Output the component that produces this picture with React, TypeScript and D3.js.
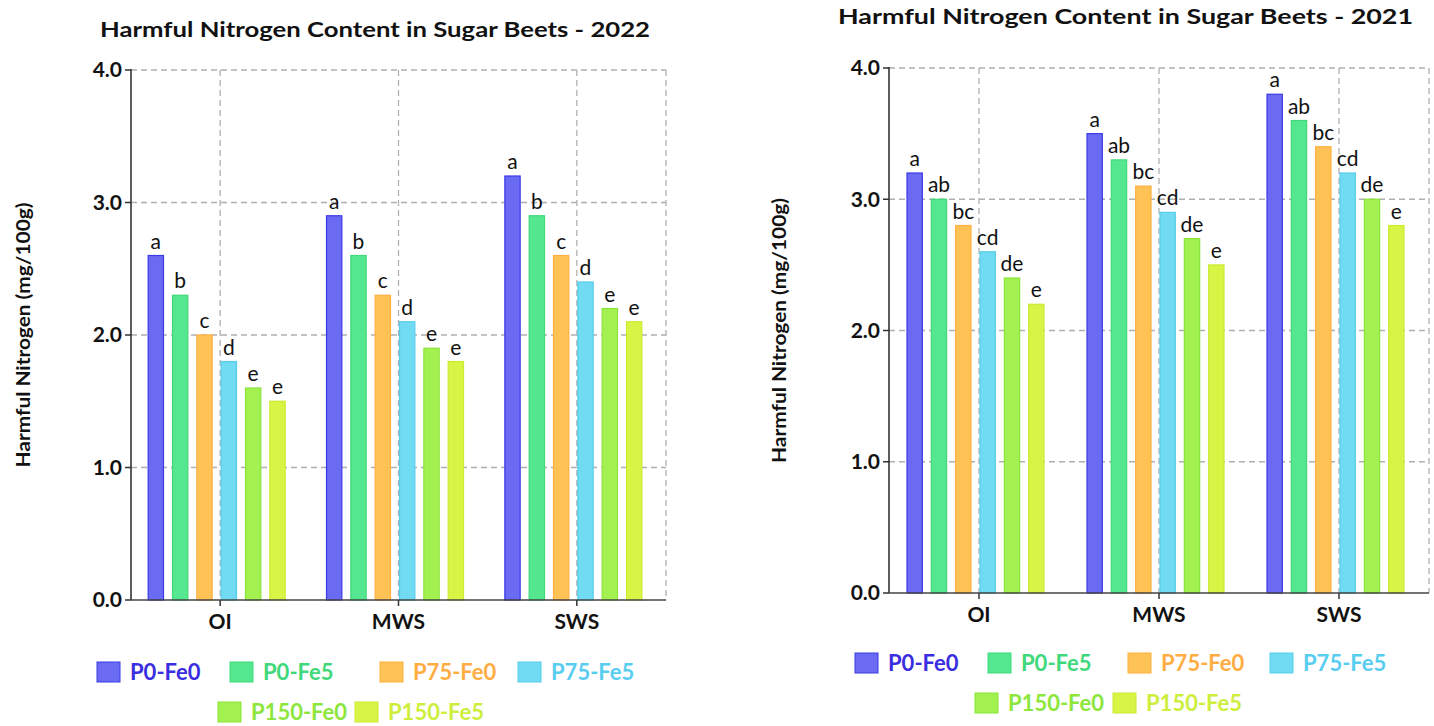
import React from "react";
import * as d3 from "d3";

const categories = ["OI", "MWS", "SWS"];
const series = ["P0-Fe0", "P0-Fe5", "P75-Fe0", "P75-Fe5", "P150-Fe0", "P150-Fe5"];
const fillColors = ["#6a6af2", "#55e78f", "#ffc255", "#70dbf2", "#a2f150", "#d8f546"];
const strokeColors = ["#3b3be6", "#3fd97a", "#ffb040", "#56cdea", "#8ae53a", "#c8ec30"];
const textColors = ["#3a2ee0", "#3fd87a", "#ffad42", "#58cdf0", "#8de63c", "#cdee3c"];

// 2022 values, rows = categories, cols = series
const values2022 = [
    [2.6, 2.3, 2.0, 1.8, 1.6, 1.5],
    [2.9, 2.6, 2.3, 2.1, 1.9, 1.8],
    [3.2, 2.9, 2.6, 2.4, 2.2, 2.1],
];
const letters2022 = [
    ["a", "b", "c", "d", "e", "e"],
    ["a", "b", "c", "d", "e", "e"],
    ["a", "b", "c", "d", "e", "e"],
];

// 2021 values
const values2021 = [
    [3.2, 3.0, 2.8, 2.6, 2.4, 2.2],
    [3.5, 3.3, 3.1, 2.9, 2.7, 2.5],
    [3.8, 3.6, 3.4, 3.2, 3.0, 2.8],
];
const letters2021 = [
    ["a", "ab", "bc", "cd", "de", "e"],
    ["a", "ab", "bc", "cd", "de", "e"],
    ["a", "ab", "bc", "cd", "de", "e"],
];

const yTicks = [0, 1, 2, 3, 4];
const FONT = "Lato, 'Open Sans', sans-serif";

type ChartProps = {
    title: string;
    titleX: number;
    titleY: number;
    titleW: number;
    left: number;
    right: number;
    top: number;
    bottom: number;
    yLabelX: number;
    values: number[][];
    letters: string[][];
    legendRows: { x: number; y: number; idx: number[]; gaps: number[] }[];
};

function Chart(p: ChartProps) {
    const x = d3.scaleBand().domain(categories).range([p.left, p.right]).padding(0);
    const inner = d3.scaleBand().domain(series).range([-72, 65]).paddingInner(0.37).paddingOuter(0);
    const y = d3.scaleLinear().domain([0, 4]).range([p.bottom, p.top]);
    const midY = (p.top + p.bottom) / 2;

    return (
        <g fontFamily={FONT}>
            {/* title */}
            <text x={p.titleX} y={p.titleY} fontSize={21} fontWeight="bold" fill="#111"
                textLength={p.titleW} lengthAdjust="spacingAndGlyphs">{p.title}</text>

            {/* grid */}
            {yTicks.filter(t => t > 0).map(t => (
                <line key={"h" + t} x1={p.left} x2={p.right} y1={y(t)} y2={y(t)}
                    stroke="#b0b0b0" strokeWidth={1.3} strokeDasharray="6,4" />
            ))}
            {categories.map(c => (
                <line key={"v" + c} x1={x(c)! + x.bandwidth() / 2} x2={x(c)! + x.bandwidth() / 2}
                    y1={p.top} y2={p.bottom} stroke="#b0b0b0" strokeWidth={1.3} strokeDasharray="6,4" />
            ))}
            <line x1={p.right} x2={p.right} y1={p.top} y2={p.bottom}
                stroke="#b0b0b0" strokeWidth={1.3} strokeDasharray="6,4" />

            {/* bars */}
            {categories.map((c, ci) => series.map((s, si) => {
                const v = p.values[ci][si];
                const bx = x(c)! + x.bandwidth() / 2 + inner(s)!;
                return (
                    <g key={c + s}>
                        <rect x={bx} y={y(v)} width={inner.bandwidth()} height={y(0) - y(v)}
                            fill={fillColors[si]} stroke={strokeColors[si]} strokeWidth={1.2} />
                        <text x={bx + inner.bandwidth() / 2} y={y(v) - 7} textAnchor="middle"
                            fontSize={21} fill="#111">{p.letters[ci][si]}</text>
                    </g>
                );
            }))}

            {/* axes */}
            <line x1={p.left} x2={p.left} y1={p.top - 1} y2={p.bottom} stroke="#333" strokeWidth={1.6} />
            <line x1={p.left} x2={p.right} y1={p.bottom} y2={p.bottom} stroke="#444" strokeWidth={1.6} />
            {yTicks.map(t => (
                <g key={"yt" + t}>
                    <line x1={p.left - 6} x2={p.left} y1={y(t)} y2={y(t)} stroke="#333" strokeWidth={1.5} />
                    <text x={p.left - 9} y={y(t)} dy="0.35em" textAnchor="end" fontSize={21}
                        fontWeight="bold" fill="#111">{t.toFixed(1)}</text>
                </g>
            ))}
            {categories.map(c => (
                <g key={"xt" + c}>
                    <line x1={x(c)! + x.bandwidth() / 2} x2={x(c)! + x.bandwidth() / 2}
                        y1={p.bottom} y2={p.bottom + 6} stroke="#333" strokeWidth={1.5} />
                    <text x={x(c)! + x.bandwidth() / 2} y={p.bottom + 29} textAnchor="middle"
                        fontSize={21} fontWeight="bold" fill="#111">{c}</text>
                </g>
            ))}

            {/* y label */}
            <text transform={`translate(${p.yLabelX}, ${midY}) rotate(-90)`} textAnchor="middle"
                fontSize={19} fontWeight="bold" fill="#111" textLength={265}
                lengthAdjust="spacingAndGlyphs">Harmful Nitrogen (mg/100g)</text>

            {/* legend */}
            {p.legendRows.map((row, ri) => {
                let cx = row.x;
                return row.idx.map((si, k) => {
                    const gx = cx;
                    cx += row.gaps[k];
                    return (
                        <g key={"lg" + ri + si} transform={`translate(${gx}, ${row.y})`}>
                            <rect x={0} y={-10} width={23} height={20} fill={fillColors[si]}
                                stroke={strokeColors[si]} strokeWidth={1} />
                            <text x={33} y={0} dy="0.36em" fontSize={22} fontWeight="bold"
                                fill={textColors[si]}>{series[si]}</text>
                        </g>
                    );
                });
            })}
        </g>
    );
}

export default function App() {
    return (
        <svg width={1434} height={726} style={{ position: "absolute", left: 0, top: 0, background: "#fff" }}>
            <rect width={1434} height={726} fill="#fff" />
            <Chart title="Harmful Nitrogen Content in Sugar Beets - 2022" titleX={100} titleY={37} titleW={550}
                left={131} right={666} top={70} bottom={600} yLabelX={30}
                values={values2022} letters={letters2022}
                legendRows={[
                    { x: 97, y: 672, idx: [0, 1, 2, 3], gaps: [133, 150, 138, 0] },
                    { x: 218, y: 712, idx: [4, 5], gaps: [137, 0] },
                ]} />
            <Chart title="Harmful Nitrogen Content in Sugar Beets - 2021" titleX={838} titleY={24} titleW={575}
                left={889} right={1429} top={68} bottom={593} yLabelX={786}
                values={values2021} letters={letters2021}
                legendRows={[
                    { x: 855, y: 663, idx: [0, 1, 2, 3], gaps: [133, 140, 142, 0] },
                    { x: 975, y: 703, idx: [4, 5], gaps: [138, 0] },
                ]} />
        </svg>
    );
}
